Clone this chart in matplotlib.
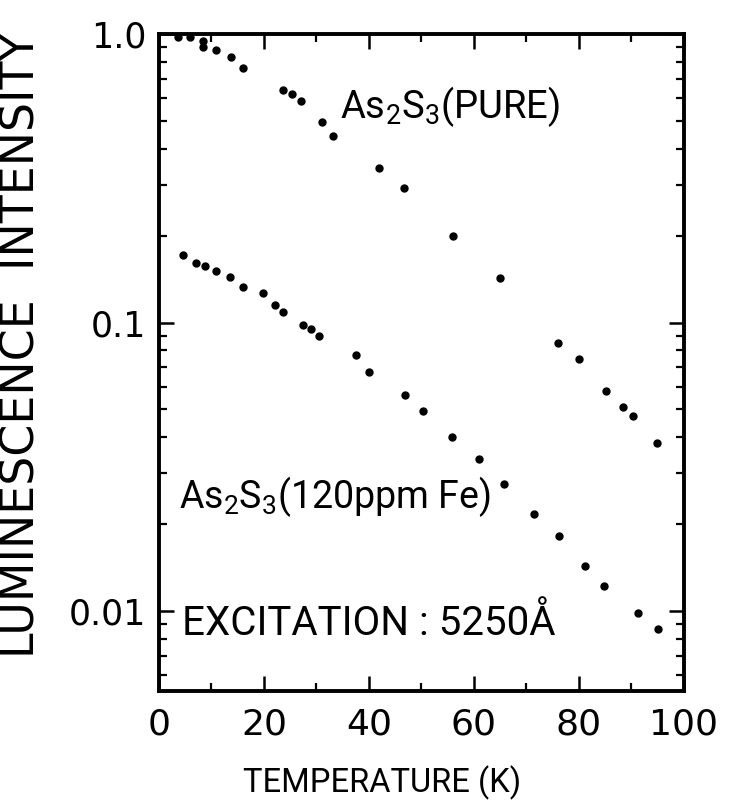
import matplotlib
matplotlib.use('Agg')
from matplotlib import pyplot as plt
from matplotlib.ticker import MultipleLocator, LogLocator, NullFormatter, FixedLocator

# Pure As2S3 data
pure_temp = [3.6, 5.9, 8.4, 8.4, 10.8, 13.7, 16.0, 23.6, 25.3, 27.0, 31.0, 33.1,
             41.9, 46.6, 56.0, 64.9, 76.0, 80.0, 85.1, 88.4, 90.3, 94.9]
pure_int = [0.98, 0.98, 0.946, 0.90, 0.88, 0.83, 0.76, 0.64, 0.62, 0.586, 0.497, 0.443,
            0.344, 0.293, 0.199, 0.143, 0.0846, 0.075, 0.058, 0.0508, 0.0473, 0.0381]

# As2S3 with 120 ppm Fe
fe_temp = [4.6, 7.0, 8.8, 10.9, 13.5, 16.0, 19.8, 22.1, 23.6, 27.4, 29.0, 30.5,
           37.5, 40.0, 46.9, 50.3, 55.8, 61.0, 65.7, 71.4, 76.2, 81.1, 84.8, 91.2, 95.0]
fe_int = [0.171, 0.161, 0.157, 0.151, 0.144, 0.133, 0.127, 0.115, 0.109, 0.0984, 0.0946, 0.0895,
          0.0769, 0.0672, 0.0559, 0.0492, 0.040, 0.0336, 0.0275, 0.0217, 0.0182, 0.0143, 0.0122,
          0.00984, 0.00867]

x_ticks = [0, 20, 40, 60, 80, 100]
y_ticks = [1.0, 0.1, 0.01]
y_tick_labels = ['1.0', '0.1', '0.01']

# narrower font for the lettering inside the plot
plt.rcParams['mathtext.fontset'] = 'custom'
plt.rcParams['mathtext.rm'] = 'Roboto'
plt.rcParams['mathtext.it'] = 'Roboto'
plt.rcParams['mathtext.bf'] = 'Roboto'

fig = plt.figure(figsize=(7.3, 8.09), dpi=100)
ax = fig.add_axes([0.2178, 0.1459, 0.719, 0.812])

ax.plot(pure_temp, pure_int, 'o', color='black', markersize=5)
ax.plot(fe_temp, fe_int, 'o', color='black', markersize=5)

ax.set_yscale('log')
ax.set_xlim(0, 100)
ax.set_ylim(0.00528, 1.0)

# ticks on all four sides, pointing in
ax.xaxis.set_major_locator(FixedLocator(x_ticks))
ax.xaxis.set_minor_locator(MultipleLocator(10))
ax.yaxis.set_major_locator(FixedLocator(y_ticks))
ax.yaxis.set_minor_locator(LogLocator(base=10, subs=range(2, 10)))
ax.yaxis.set_minor_formatter(NullFormatter())
ax.set_xticklabels([str(t) for t in x_ticks])
ax.set_yticklabels(y_tick_labels)
ax.tick_params(which='both', direction='in', top=True, right=True, color='black')
ax.tick_params(which='major', length=11, width=1.8, labelsize=25, pad=9)
ax.tick_params(axis='x', which='major', labelsize=26, pad=12)
ax.tick_params(which='minor', length=5.5, width=1.6)
for s in ax.spines.values():
    s.set_linewidth(2.8)

# curve labels
ax.text(34.5, 0.51, r'As$_2$S$_3$(PURE)', fontsize=27.5, family='Roboto', va='baseline')
ax.text(3.8, 0.0227, r'As$_2$S$_3$(120ppm Fe)', fontsize=27, family='Roboto', va='baseline')
ax.text(4.4, 0.00826, 'EXCITATION : 5250Å', fontsize=29, family='Roboto', va='baseline')

# axis titles placed by hand
fig.text(22 / 730, 1 - 345 / 809, 'LUMINESCENCE  INTENSITY', rotation=90,
         fontsize=33, ha='center', va='center')
fig.text(382 / 730, 1 - 783 / 809, 'TEMPERATURE (K)', fontsize=23.5, family='Roboto',
         ha='center', va='center')

fig.savefig('out.png', dpi=100)
plt.close(fig)
